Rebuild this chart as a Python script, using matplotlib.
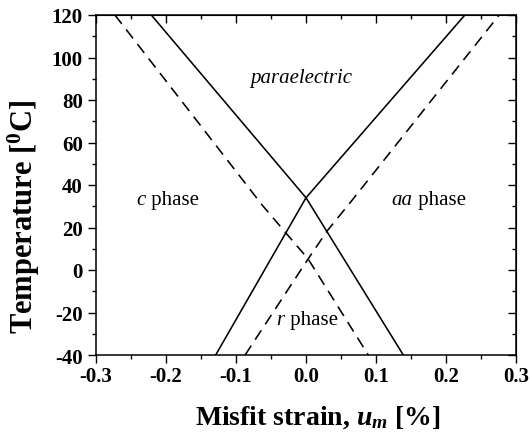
import numpy as np
import matplotlib
matplotlib.use("Agg")
import matplotlib.pyplot as plt
from matplotlib.ticker import MultipleLocator, FormatStrFormatter

plt.rcParams["font.family"] = ["Liberation Serif", "DejaVu Serif"]
plt.rcParams["mathtext.fontset"] = "custom"
plt.rcParams["mathtext.rm"] = "Liberation Serif:bold"
plt.rcParams["mathtext.it"] = "Liberation Serif:bold:italic"
plt.rcParams["mathtext.bf"] = "Liberation Serif:bold"

# --- phase boundaries (misfit strain %, temperature C) ---
# solid: paraelectric / c  ->  aa / r
solid_a_x = [-0.221, 0.0, 0.139]
solid_a_y = [120, 34, -40]
# solid: c / r  ->  paraelectric / aa
solid_b_x = [-0.129, 0.0, 0.227]
solid_b_y = [-40, 34, 120]
# dashed boundaries
dash_a_x = [-0.273, -0.062, -0.0286, 0.003, 0.089]
dash_a_y = [120, 30.3, 17.4, 5.2, -40]
dash_b_x = [-0.087, 0.003, 0.0305, 0.0653, 0.276]
dash_b_y = [-40, 5.2, 18.5, 32.6, 120]

x_ticks = [-0.3, -0.2, -0.1, 0.0, 0.1, 0.2, 0.3]
y_ticks = [-40, -20, 0, 20, 40, 60, 80, 100, 120]

fig = plt.figure(figsize=(5.3, 4.35), dpi=100)
ax = fig.add_axes([96 / 530, 1 - 356 / 435, 420 / 530, 340 / 435])

ax.plot(solid_a_x, solid_a_y, color="black", lw=1.15)
ax.plot(solid_b_x, solid_b_y, color="black", lw=1.15)
ax.plot(dash_a_x, dash_a_y, color="black", lw=1.15, dashes=(7, 4.5))
ax.plot(dash_b_x, dash_b_y, color="black", lw=1.15, dashes=(7, 4.5))

ax.set_xlim(-0.3, 0.3)
ax.set_ylim(-40, 120)
ax.set_xticks(x_ticks)
ax.set_yticks(y_ticks)
ax.xaxis.set_minor_locator(MultipleLocator(0.05))
ax.yaxis.set_minor_locator(MultipleLocator(10))
ax.xaxis.set_major_formatter(FormatStrFormatter("%.1f"))
ax.yaxis.set_major_formatter(FormatStrFormatter("%d"))
ax.tick_params(which="major", direction="out", length=6, width=1.0,
               labelsize=15, pad=2)
ax.tick_params(axis="y", which="major", pad=3.5)
ax.tick_params(which="minor", direction="out", length=3, width=1.0)
for lab in ax.get_xticklabels() + ax.get_yticklabels():
    lab.set_fontweight("bold")
for sp in ax.spines.values():
    sp.set_linewidth(1.1)

# inward ticks on top and right
top = ax.secondary_xaxis("top")
top.set_xticks(x_ticks)
top.xaxis.set_minor_locator(MultipleLocator(0.05))
top.tick_params(which="major", direction="in", length=6, width=1.0, labeltop=False)
top.tick_params(which="minor", direction="in", length=3, width=1.0)
right = ax.secondary_yaxis("right")
right.set_yticks(y_ticks)
right.yaxis.set_minor_locator(MultipleLocator(10))
right.tick_params(which="major", direction="in", length=6, width=1.0, labelright=False)
right.tick_params(which="minor", direction="in", length=3, width=1.0)

# region labels
ax.text(-0.0062, 88.3, "paraelectric", style="italic", fontsize=15,
        ha="center", va="baseline")


def phase_label(x, y, name):
    t = ax.text(x, y, name, style="italic", fontsize=15, ha="left", va="baseline")
    ax.annotate(" phase", xy=(1, 0), xycoords=t, fontsize=15,
                ha="left", va="bottom")


phase_label(-0.242, 31.1, "c")
phase_label(0.1224, 31.1, "aa")
phase_label(-0.042, -25.4, "r")

fig.text(318 / 530, 1 - 425 / 435, "Misfit strain, $u_m$ [%]",
         fontsize=20, fontweight="bold", ha="center", va="baseline")
fig.text(24 / 530, 1 - 217 / 435, "Temperature [$^0$C]",
         fontsize=22, fontweight="bold", rotation=90, ha="center", va="center")

fig.savefig("out.png", dpi=100)
